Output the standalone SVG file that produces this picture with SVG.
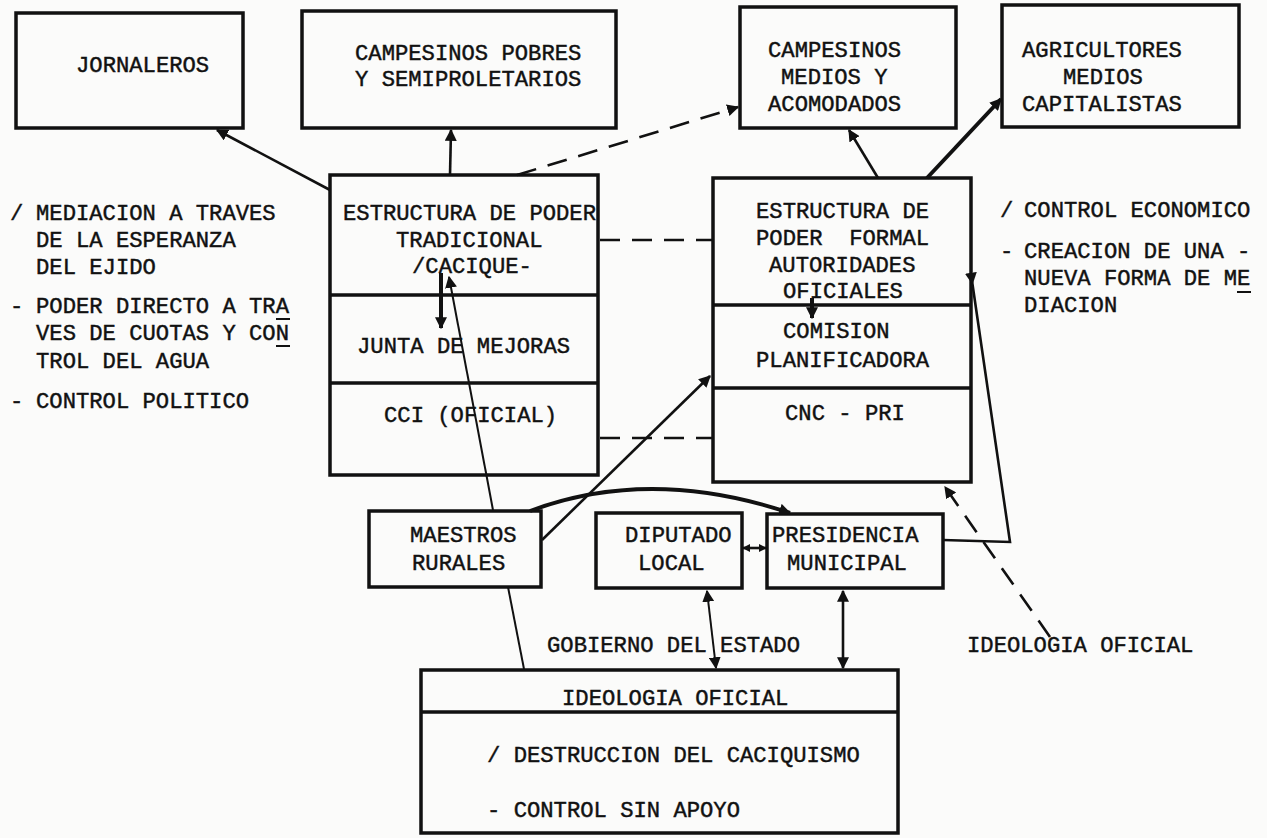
<svg xmlns="http://www.w3.org/2000/svg" width="1267" height="838" viewBox="0 0 1267 838">
<style>
.bx{fill:none;stroke:#111;stroke-width:3.5;stroke-linejoin:miter}
.dv{stroke:#111;stroke-width:3.5}
.t{font-family:"Liberation Mono","DejaVu Sans Mono",monospace;font-size:22.2px;fill:#111;stroke:#111;stroke-width:0.45}
.c{fill:none;stroke:#111;stroke-width:2.6}
.thin{fill:none;stroke:#111;stroke-width:2}
.thick{fill:none;stroke:#111;stroke-width:4}
.dash{fill:none;stroke:#111;stroke-width:2.6;stroke-dasharray:20 12}
.ul{stroke:#111;stroke-width:2}
</style>
<defs>
<marker id="ah" viewBox="0 0 10 10" refX="9" refY="5" markerWidth="12" markerHeight="12" markerUnits="userSpaceOnUse" orient="auto-start-reverse">
<path d="M0,0 L10,5 L0,10 z" fill="#111"/>
</marker>
<marker id="ahs" viewBox="0 0 10 10" refX="9" refY="5" markerWidth="8" markerHeight="9" markerUnits="userSpaceOnUse" orient="auto-start-reverse">
<path d="M0,0 L10,5 L0,10 z" fill="#111"/>
</marker>
<marker id="ahf" viewBox="0 0 10 10" refX="1" refY="5" markerWidth="12" markerHeight="12" markerUnits="userSpaceOnUse" orient="auto">
<path d="M0,0 L10,5 L0,10 z" fill="#111"/>
</marker>
</defs>
<rect width="1267" height="838" fill="#fbfbfa"/>

<g id="jornaleros">
<rect class="bx" x="16" y="13" width="227" height="115"/>
<text class="t" x="76" y="72">JORNALEROS</text>
</g>
<g id="campesinos-pobres">
<rect class="bx" x="302" y="11" width="314" height="117"/>
<text class="t" x="355" y="60">CAMPESINOS POBRES</text>
<text class="t" x="355" y="86">Y SEMIPROLETARIOS</text>
</g>
<g id="campesinos-medios">
<rect class="bx" x="740" y="7" width="216" height="121"/>
<text class="t" x="768" y="57">CAMPESINOS</text>
<text class="t" x="781" y="84">MEDIOS Y</text>
<text class="t" x="768" y="111">ACOMODADOS</text>
</g>
<g id="agricultores">
<rect class="bx" x="1002" y="5" width="237" height="122"/>
<text class="t" x="1022" y="57">AGRICULTORES</text>
<text class="t" x="1063" y="84">MEDIOS</text>
<text class="t" x="1022" y="111">CAPITALISTAS</text>
</g>

<g id="notas-izquierda">
<text class="t" x="10" y="220">/</text>
<text class="t" x="36" y="220">MEDIACION A TRAVES</text>
<text class="t" x="36" y="247">DE LA ESPERANZA</text>
<text class="t" x="36" y="274">DEL EJIDO</text>
<text class="t" x="10" y="313">-</text>
<text class="t" x="36" y="313">PODER DIRECTO A TRA</text>
<line class="ul" x1="276" y1="319" x2="290" y2="319"/>
<text class="t" x="36" y="340">VES DE CUOTAS Y CON</text>
<line class="ul" x1="276" y1="346" x2="290" y2="346"/>
<text class="t" x="36" y="368">TROL DEL AGUA</text>
<text class="t" x="10" y="408">-</text>
<text class="t" x="36" y="408">CONTROL POLITICO</text>
</g>

<g id="poder-tradicional">
<rect class="bx" x="330" y="175" width="268" height="300"/>
<line class="dv" x1="330" y1="295" x2="598" y2="295"/>
<line class="dv" x1="330" y1="383" x2="598" y2="383"/>
<text class="t" x="343" y="220">ESTRUCTURA DE PODER</text>
<text class="t" x="396" y="247">TRADICIONAL</text>
<text class="t" x="412" y="273">/CACIQUE-</text>
<text class="t" x="357" y="353">JUNTA DE MEJORAS</text>
<text class="t" x="384" y="422">CCI (OFICIAL)</text>
</g>

<g id="poder-formal">
<rect class="bx" x="713" y="178" width="258" height="304"/>
<line class="dv" x1="713" y1="305" x2="971" y2="305"/>
<line class="dv" x1="713" y1="388" x2="971" y2="388"/>
<text class="t" x="756" y="218">ESTRUCTURA DE</text>
<text class="t" x="756" y="245" xml:space="preserve">PODER  FORMAL</text>
<text class="t" x="769" y="272">AUTORIDADES</text>
<text class="t" x="783" y="298">OFICIALES</text>
<text class="t" x="783" y="338">COMISION</text>
<text class="t" x="756" y="367">PLANIFICADORA</text>
<text class="t" x="785" y="420">CNC - PRI</text>
</g>

<g id="notas-derecha">
<text class="t" x="1000" y="217">/</text>
<text class="t" x="1024" y="217">CONTROL ECONOMICO</text>
<text class="t" x="1000" y="258">-</text>
<text class="t" x="1024" y="258">CREACION DE UNA -</text>
<text class="t" x="1024" y="285">NUEVA FORMA DE ME</text>
<line class="ul" x1="1237" y1="292" x2="1251" y2="292"/>
<text class="t" x="1024" y="312">DIACION</text>
</g>

<g id="maestros">
<rect class="bx" x="369" y="511" width="172" height="76"/>
<text class="t" x="410" y="542">MAESTROS</text>
<text class="t" x="412" y="570">RURALES</text>
</g>
<g id="diputado">
<rect class="bx" x="596" y="513" width="146" height="75"/>
<text class="t" x="625" y="542">DIPUTADO</text>
<text class="t" x="638" y="570">LOCAL</text>
</g>
<g id="presidencia">
<rect class="bx" x="767" y="514" width="176" height="74"/>
<text class="t" x="772" y="542">PRESIDENCIA</text>
<text class="t" x="787" y="570">MUNICIPAL</text>
</g>

<g id="ideologia">
<rect class="bx" x="421" y="670" width="477" height="163"/>
<line class="dv" x1="421" y1="712" x2="898" y2="712"/>
<text class="t" x="562" y="705">IDEOLOGIA OFICIAL</text>
<text class="t" x="487" y="762">/ DESTRUCCION DEL CACIQUISMO</text>
<text class="t" x="487" y="817">- CONTROL SIN APOYO</text>
</g>

<g id="etiquetas">
<text class="t" x="547" y="652">GOBIERNO DEL ESTADO</text>
<text class="t" x="967" y="652">IDEOLOGIA OFICIAL</text>
</g>

<g id="conectores">
<line class="c" x1="330" y1="190" x2="217" y2="130" marker-end="url(#ah)"/>
<line class="c" x1="450" y1="175" x2="451" y2="130" marker-end="url(#ah)"/>
<line class="dash" x1="517" y1="175" x2="738" y2="107" marker-end="url(#ah)"/>
<line class="c" x1="878" y1="178" x2="849" y2="130" marker-end="url(#ah)"/>
<line class="thick" x1="927" y1="178" x2="1001" y2="99" marker-end="url(#ah)"/>
<line class="dash" x1="600" y1="240" x2="712" y2="240"/>
<line class="dash" x1="600" y1="438" x2="712" y2="438"/>
<line class="thick" x1="441" y1="273" x2="441" y2="328" marker-end="url(#ah)"/>
<line class="thin" x1="493" y1="510" x2="449" y2="277" marker-end="url(#ah)"/>
<line class="c" x1="542" y1="540" x2="710" y2="376" marker-end="url(#ah)"/>
<path class="thick" d="M530,511 Q650,466 790,513" marker-end="url(#ah)"/>
<line class="thin" x1="508" y1="587" x2="524" y2="669"/>
<line class="c" x1="743" y1="548" x2="766" y2="548" marker-start="url(#ahs)" marker-end="url(#ahs)"/>
<line class="thin" x1="707" y1="591" x2="716" y2="668" marker-start="url(#ah)" marker-end="url(#ah)"/>
<line class="c" x1="843" y1="591" x2="843" y2="668" marker-start="url(#ah)" marker-end="url(#ah)"/>
<polyline class="c" points="971,274 1010,542 943,540" marker-start="url(#ahf)"/>
<line class="dash" x1="1050" y1="637" x2="945" y2="487" marker-end="url(#ah)"/>
<line class="thick" x1="812" y1="298" x2="812" y2="318" marker-end="url(#ah)"/>
</g>
</svg>
